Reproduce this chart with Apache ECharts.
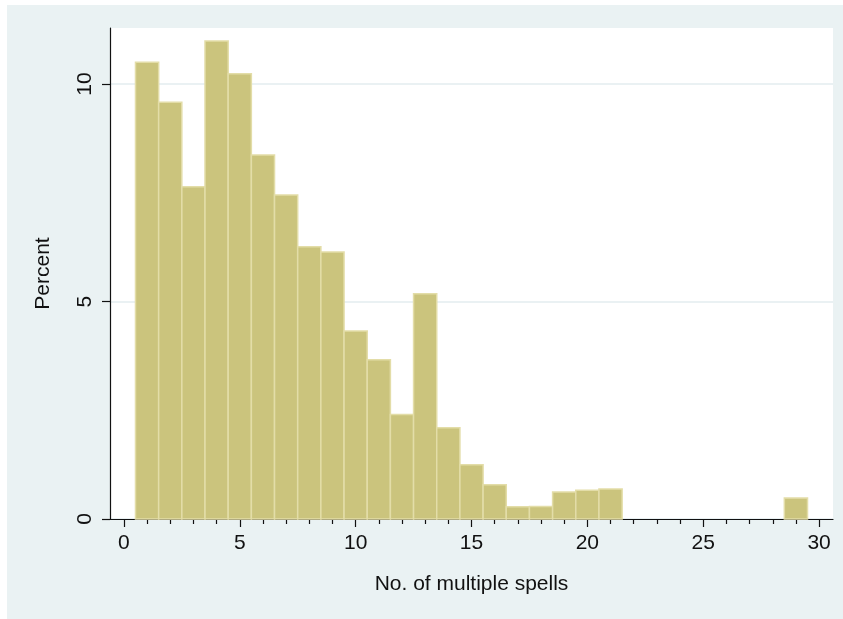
<!DOCTYPE html>
<html>
<head>
<meta charset="utf-8">
<script src="https://cdn.jsdelivr.net/npm/echarts@6/dist/echarts.min.js"></script>
<style>
  html, body { margin: 0; padding: 0; background: #ffffff; }
  #panel { position: absolute; left: 7px; top: 5px; width: 836px; height: 614px; background: #EAF2F3; }
  #chart { position: absolute; left: 0; top: 0; width: 843px; height: 619px; }
</style>
</head>
<body>
<div id="panel"></div>
<div id="chart"></div>
<script>
// Bin centres (No. of multiple spells) and histogram heights (Percent)
var binCenters = [1, 2, 3, 4, 5, 6, 7, 8, 9, 10, 11, 12, 13, 14, 15, 16, 17, 18, 19, 20, 21, 22, 23, 24, 25, 26, 27, 28, 29];
var percentValues = [10.50, 9.58, 7.64, 10.99, 10.24, 8.37, 7.45, 6.26, 6.14, 4.32, 3.66, 2.40, 5.18, 2.10, 1.25, 0.79, 0.28, 0.29, 0.62, 0.66, 0.69, 0, 0, 0, 0, 0, 0, 0, 0.48];
var binWidth = 1;
var xMajorTicks = [0, 5, 10, 15, 20, 25, 30];
var xMinorTicks = [1, 2, 3, 4, 6, 7, 8, 9, 11, 12, 13, 14, 16, 17, 18, 19, 21, 22, 23, 24, 26, 27, 28, 29];
var yTicks = [0, 5, 10];
var xTitle = 'No. of multiple spells';
var yTitle = 'Percent';

var data = binCenters.map(function (c, i) { return [c, percentValues[i]]; });

var font = 'Liberation Sans, Arial, Helvetica, sans-serif';
var txt = '#111111';

var chart = echarts.init(document.getElementById('chart'), null, { renderer: 'canvas' });
chart.setOption({
  backgroundColor: 'transparent',
  animation: false,
  grid: {
    left: 110, right: 10, top: 28, bottom: 100,
    show: true, backgroundColor: '#ffffff', borderWidth: 0
  },
  xAxis: [{
    type: 'value', min: -0.6, max: 30.6,
    name: xTitle, nameLocation: 'middle', nameGap: 55,
    nameTextStyle: { fontFamily: font, fontSize: 21, color: txt },
    axisLine: { show: true, onZero: false, lineStyle: { color: '#111', width: 1.2 } },
    axisTick: { show: true, length: 8, customValues: xMajorTicks, lineStyle: { color: '#111', width: 1.2 } },
    axisLabel: { show: true, customValues: xMajorTicks, margin: 14, fontFamily: font, fontSize: 21, color: txt },
    splitLine: { show: false }
  }, {
    type: 'value', min: -0.6, max: 30.6, position: 'bottom',
    axisLine: { show: false, onZero: false },
    axisTick: { show: true, length: 5, customValues: xMinorTicks, lineStyle: { color: '#111', width: 1.2 } },
    axisLabel: { show: false },
    splitLine: { show: false }
  }],
  yAxis: {
    type: 'value', min: 0, max: 11.29,
    name: yTitle, nameLocation: 'middle', nameGap: 56, nameRotate: 90,
    nameTextStyle: { fontFamily: font, fontSize: 21, color: txt },
    axisLine: { show: true, onZero: false, lineStyle: { color: '#111', width: 1.2 } },
    axisTick: { show: true, length: 8, customValues: yTicks, lineStyle: { color: '#111', width: 1.2 } },
    axisLabel: { show: true, customValues: yTicks, rotate: 90, margin: 14, fontFamily: font, fontSize: 21, color: txt },
    splitLine: { show: true, lineStyle: { color: '#E3ECEF', width: 1.5 } }
  },
  series: [{
    type: 'custom',
    xAxisIndex: 0,
    data: data,
    renderItem: function (params, api) {
      var x = api.value(0), y = api.value(1);
      if (!y) return null;
      var p0 = api.coord([x - binWidth / 2, y]);
      var p1 = api.coord([x + binWidth / 2, 0]);
      return {
        type: 'rect',
        shape: { x: p0[0], y: p0[1], width: p1[0] - p0[0], height: p1[1] - p0[1] },
        style: { fill: '#CBC47D', stroke: '#E3DDA8', lineWidth: 1.5 }
      };
    }
  }]
});
</script>
</body>
</html>
